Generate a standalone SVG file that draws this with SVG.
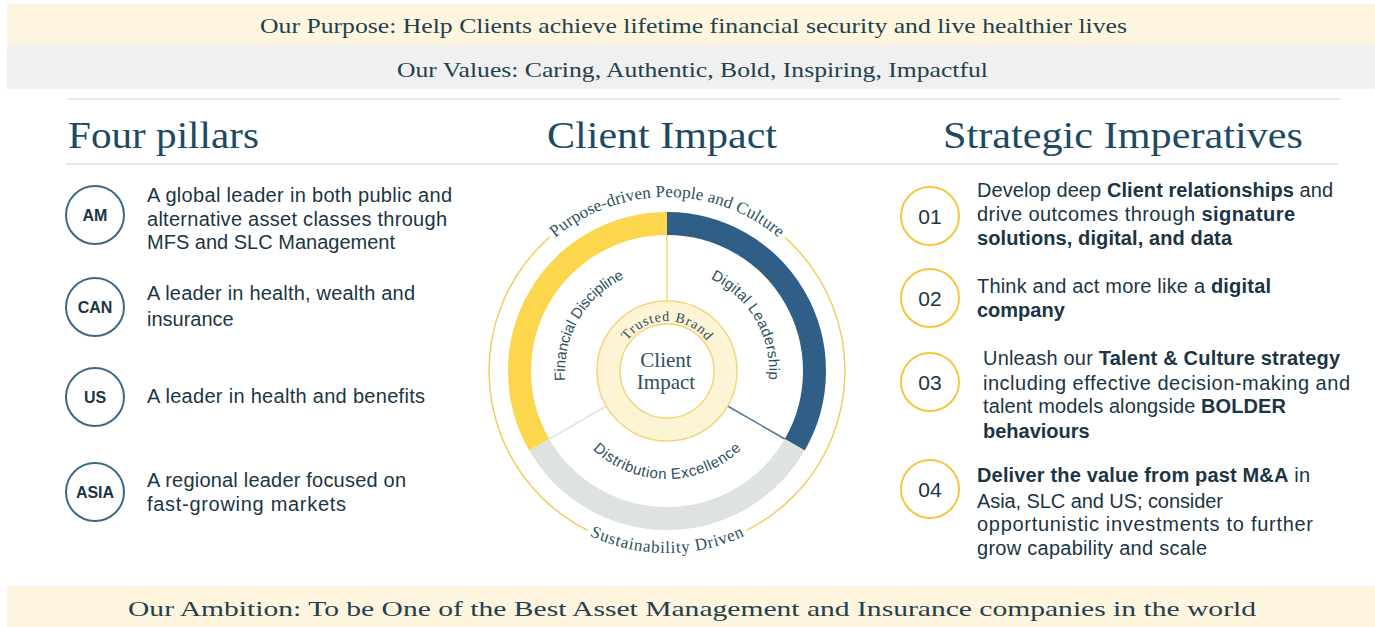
<svg xmlns="http://www.w3.org/2000/svg" width="1375" height="627" viewBox="0 0 1375 627">
<style>
.band-cream{fill:#fdf5de}
.band-gray{fill:#f0f0f0}
.banner{font-family:"Liberation Serif",serif;font-size:22px;fill:#23404e}
.rule{stroke:#e6e6e6;stroke-width:2}
.heading{font-family:"Liberation Serif",serif;font-size:37px;fill:#1d4a62}
.body{font-family:"Liberation Sans",Arial,sans-serif;font-size:20px;fill:#1b3544}
.b{font-weight:700}
.pill-c{fill:#fff;stroke:#3d6886;stroke-width:2}
.pill-t{font-family:"Liberation Sans",Arial,sans-serif;font-size:16px;font-weight:700;fill:#1b3544;text-anchor:middle}
.imp-c{fill:#fff;stroke:#f7c63e;stroke-width:2}
.imp-t{font-family:"Liberation Sans",Arial,sans-serif;font-size:21px;fill:#1b3544;text-anchor:middle}
.arc-serif{font-family:"Liberation Serif",serif;fill:#2d5060}
.arc-sans{font-family:"Liberation Sans",Arial,sans-serif;font-size:15px;fill:#2d5060}
.knock{fill:#fff;stroke:#fff;stroke-width:10;stroke-linejoin:round}
</style>
<defs>
<path id="pTop" d="M 493 371 A 174 174 0 0 1 841 371"/>
<path id="pBot" d="M 485 371 A 182 182 0 0 0 849 371"/>
<path id="pDist" d="M 559 371 A 108 108 0 0 0 775 371"/>
<path id="pFin" d="M 578.67 422 A 102 102 0 0 1 667 269"/>
<path id="pDig" d="M 667 269 A 102 102 0 0 1 755.33 422"/>
<path id="pTrust" d="M 617 371 A 50 50 0 0 1 717 371"/>
</defs>

<g id="banners">
<rect class="band-cream" x="7" y="4" width="1368" height="41"/>
<rect class="band-gray" x="7" y="45" width="1368" height="44"/>
<text class="banner" x="260" y="33" textLength="867" lengthAdjust="spacingAndGlyphs">Our Purpose: Help Clients achieve lifetime financial security and live healthier lives</text>
<text class="banner" x="397" y="77" textLength="591" lengthAdjust="spacingAndGlyphs">Our Values: Caring, Authentic, Bold, Inspiring, Impactful</text>
<rect class="band-cream" x="7" y="586" width="1368" height="41"/>
<text class="banner" x="128" y="616" font-size="23" textLength="1128" lengthAdjust="spacingAndGlyphs">Our Ambition: To be One of the Best Asset Management and Insurance companies in the world</text>
</g>

<g id="rules">
<line class="rule" x1="68" y1="99" x2="1340" y2="99"/>
<line class="rule" x1="66" y1="164" x2="1338" y2="164"/>
</g>

<g id="headings">
<text class="heading" x="68" y="148" textLength="191" lengthAdjust="spacingAndGlyphs">Four pillars</text>
<text class="heading" x="547" y="148" textLength="230" lengthAdjust="spacingAndGlyphs">Client Impact</text>
<text class="heading" x="943" y="148" textLength="360" lengthAdjust="spacingAndGlyphs">Strategic Imperatives</text>
</g>

<g id="pillar-am">
<circle class="pill-c" cx="95" cy="215" r="29"/>
<text class="pill-t" x="95" y="221">AM</text>
<text class="body" x="147" y="202" textLength="305">A global leader in both public and</text>
<text class="body" x="147" y="226" textLength="300">alternative asset classes through</text>
<text class="body" x="147" y="249" textLength="248">MFS and SLC Management</text>
</g>
<g id="pillar-can">
<circle class="pill-c" cx="95" cy="307" r="29"/>
<text class="pill-t" x="95" y="313">CAN</text>
<text class="body" x="147" y="300" textLength="268">A leader in health, wealth and</text>
<text class="body" x="147" y="326">insurance</text>
</g>
<g id="pillar-us">
<circle class="pill-c" cx="95" cy="397" r="29"/>
<text class="pill-t" x="95" y="403">US</text>
<text class="body" x="147" y="403" textLength="278">A leader in health and benefits</text>
</g>
<g id="pillar-asia">
<circle class="pill-c" cx="95" cy="492" r="29"/>
<text class="pill-t" x="95" y="498">ASIA</text>
<text class="body" x="147" y="487" textLength="259">A regional leader focused on</text>
<text class="body" x="147" y="511" textLength="199">fast-growing markets</text>
</g>

<g id="client-impact">
<circle cx="667" cy="371" r="178" fill="none" stroke="#f2cd63" stroke-width="1.5"/>
<path d="M 539.26 444.75 A 147.5 147.5 0 0 1 667 223.5" fill="none" stroke="#fcd64d" stroke-width="23"/>
<path d="M 667 223.5 A 147.5 147.5 0 0 1 794.74 444.75" fill="none" stroke="#2f5f86" stroke-width="23"/>
<path d="M 794.74 444.75 A 147.5 147.5 0 0 1 539.26 444.75" fill="none" stroke="#dee3df" stroke-width="23"/>
<line x1="667" y1="301" x2="667" y2="235" stroke="#f3d77a" stroke-width="1.5"/>
<line x1="606.4" y1="406" x2="549.2" y2="439" stroke="#dfe5e2" stroke-width="1.5"/>
<line x1="727.6" y1="406" x2="784.8" y2="439" stroke="#4d7598" stroke-width="1.5"/>
<circle cx="667" cy="371" r="70" fill="#fdf4d6" stroke="#f3d57a" stroke-width="1.5"/>
<circle cx="667" cy="371" r="47" fill="#fff" stroke="#f3d57a" stroke-width="1.5"/>
<text class="arc-serif knock" font-size="17" aria-hidden="true"><textPath href="#pTop" startOffset="50%" text-anchor="middle" textLength="243">Purpose-driven People and Culture</textPath></text>
<text class="arc-serif knock" font-size="17" aria-hidden="true"><textPath href="#pBot" startOffset="50%" text-anchor="middle" textLength="160">Sustainability Driven</textPath></text>
<text class="arc-serif" font-size="17"><textPath href="#pTop" startOffset="50%" text-anchor="middle" textLength="243">Purpose-driven People and Culture</textPath></text>
<text class="arc-serif" font-size="17"><textPath href="#pBot" startOffset="50%" text-anchor="middle" textLength="160">Sustainability Driven</textPath></text>
<text class="arc-sans"><textPath href="#pDist" startOffset="50%" text-anchor="middle" textLength="164">Distribution Excellence</textPath></text>
<text class="arc-sans"><textPath href="#pFin" startOffset="50%" text-anchor="middle" textLength="126">Financial Discipline</textPath></text>
<text class="arc-sans"><textPath href="#pDig" startOffset="50%" text-anchor="middle" textLength="124">Digital Leadership</textPath></text>
<text class="arc-serif" font-size="14"><textPath href="#pTrust" startOffset="50%" text-anchor="middle" textLength="92">Trusted Brand</textPath></text>
<text class="arc-serif" font-size="21" text-anchor="middle" x="666" y="367">Client</text>
<text class="arc-serif" font-size="21" text-anchor="middle" x="666" y="389">Impact</text>
</g>

<g id="imperative-01">
<circle class="imp-c" cx="930" cy="216" r="29"/>
<text class="imp-t" x="930" y="223.5">01</text>
<text class="body" x="977" y="197" textLength="356">Develop deep <tspan class="b">Client relationships</tspan> and</text>
<text class="body" x="977" y="221" textLength="318">drive outcomes through <tspan class="b">signature</tspan></text>
<text class="body b" x="977" y="245" textLength="255">solutions, digital, and data</text>
</g>
<g id="imperative-02">
<circle class="imp-c" cx="930" cy="298" r="29"/>
<text class="imp-t" x="930" y="305.5">02</text>
<text class="body" x="977" y="293" textLength="294">Think and act more like a <tspan class="b">digital</tspan></text>
<text class="body b" x="977" y="317">company</text>
</g>
<g id="imperative-03">
<circle class="imp-c" cx="930" cy="382" r="29"/>
<text class="imp-t" x="930" y="389.5">03</text>
<text class="body" x="983" y="365" textLength="357">Unleash our <tspan class="b">Talent &amp; Culture strategy</tspan></text>
<text class="body" x="983" y="390" textLength="367">including effective decision-making and</text>
<text class="body" x="983" y="413" textLength="303">talent models alongside <tspan class="b">BOLDER</tspan></text>
<text class="body b" x="983" y="438">behaviours</text>
</g>
<g id="imperative-04">
<circle class="imp-c" cx="930" cy="489" r="29"/>
<text class="imp-t" x="930" y="496.5">04</text>
<text class="body" x="977" y="482" textLength="333"><tspan class="b">Deliver the value from past M&amp;A</tspan> in</text>
<text class="body" x="977" y="508" textLength="246">Asia, SLC and US; consider</text>
<text class="body" x="977" y="531" textLength="336">opportunistic investments to further</text>
<text class="body" x="977" y="555" textLength="230">grow capability and scale</text>
</g>
</svg>
